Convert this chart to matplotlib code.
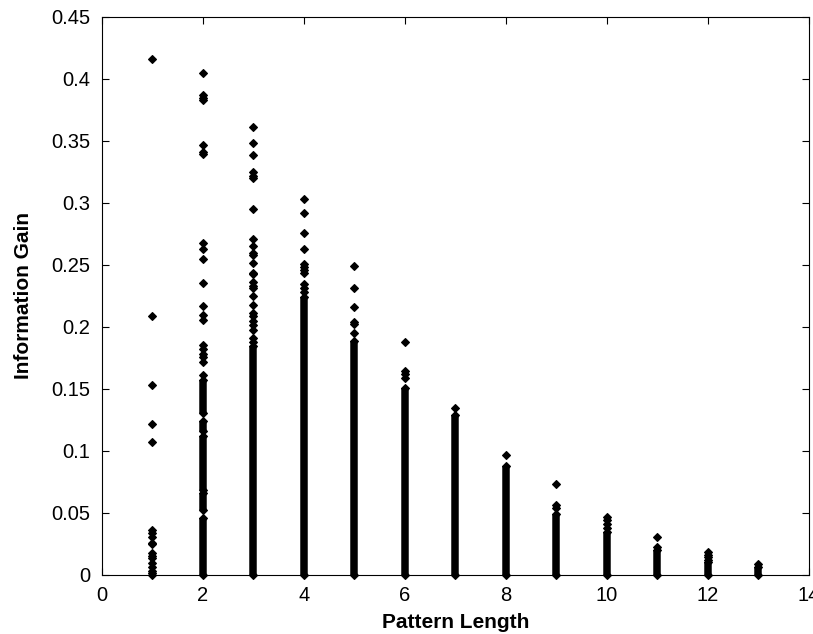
import matplotlib
matplotlib.use("Agg")
import matplotlib.pyplot as plt

plt.rcParams['font.family'] = ['Liberation Sans', 'DejaVu Sans']

# ── data ─────────────────────────────────────────────────────────────
lengths = list(range(1, 14))

# isolated points per pattern length
gain_1 = [0.4164, 0.2089, 0.153, 0.1218, 0.107, 0.036, 0.0336, 0.0304,
          0.026, 0.0247, 0.018, 0.0155, 0.0135, 0.0094, 0.0067, 0.0035,
          0.0013, 0.0]
gain_2 = [0.4045, 0.387, 0.385, 0.383, 0.3468, 0.3414, 0.3395, 0.268,
          0.2626, 0.2546, 0.2352, 0.217, 0.2097, 0.2056, 0.1855, 0.182,
          0.1785, 0.1756, 0.172, 0.161]
gain_3 = [0.361, 0.348, 0.3387, 0.3253, 0.322, 0.3204, 0.295, 0.2707,
          0.2653, 0.2594, 0.258, 0.2519, 0.2438, 0.2425, 0.2366, 0.233,
          0.2312, 0.225, 0.2177, 0.211, 0.2089, 0.205, 0.2016, 0.1975,
          0.191, 0.188]
gain_4 = [0.3032, 0.2917, 0.276, 0.2626, 0.2508, 0.2481, 0.246, 0.2433,
          0.2347, 0.2312, 0.228]
gain_5 = [0.2495, 0.2312, 0.2164, 0.2043, 0.2024, 0.1954]
gain_6 = [0.1877, 0.1648, 0.1621, 0.1586]
gain_7 = [0.1344]
gain_8 = [0.0968]
gain_9 = [0.0731, 0.0565, 0.0538]
gain_10 = [0.0465, 0.0444, 0.0411, 0.0376]
gain_11 = [0.0306, 0.0228]
gain_12 = [0.0182, 0.0158, 0.0143, 0.0121]
gain_13 = [0.0085]
sparse = [gain_1, gain_2, gain_3, gain_4, gain_5, gain_6, gain_7,
          gain_8, gain_9, gain_10, gain_11, gain_12, gain_13]

# runs so dense that the markers merge into a solid bar
dense_len = [2, 2, 2, 2, 2, 3, 4, 5, 6, 7, 8, 9, 10, 11, 12, 13]
dense_lo = [0.0, 0.052, 0.0685, 0.116, 0.131, 0.0, 0.0, 0.0, 0.0, 0.0,
            0.0, 0.0, 0.0, 0.0, 0.0, 0.0]
dense_hi = [0.046, 0.066, 0.112, 0.124, 0.157, 0.185, 0.224, 0.189, 0.151,
            0.129, 0.088, 0.049, 0.035, 0.020, 0.0105, 0.0067]

xticks = [0, 2, 4, 6, 8, 10, 12, 14]
yticks = [0, 0.05, 0.1, 0.15, 0.2, 0.25, 0.3, 0.35, 0.4, 0.45]
ytick_labels = ["0", "0.05", "0.1", "0.15", "0.2", "0.25", "0.3", "0.35",
                "0.4", "0.45"]

# ── figure ──────────────────────────────────────────────────────────
fig = plt.figure(figsize=(8.13, 6.34), dpi=100)
ax = fig.add_axes([0.1251, 0.0931, 0.8696, 0.8801])

mk = dict(marker="D", ms=3.8, mfc="k", mec="k", mew=0.8, ls="none",
          clip_on=False, zorder=3)

ax.vlines(dense_len, dense_lo, dense_hi, color="k", lw=5.4, zorder=3)
ax.plot(dense_len, dense_lo, **mk)
ax.plot(dense_len, dense_hi, **mk)
for L, g in zip(lengths, sparse):
    ax.plot([L] * len(g), g, **mk)

ax.set_xlim(0, 14)
ax.set_ylim(0, 0.45)
ax.set_xticks(xticks)
ax.set_yticks(yticks)
ax.set_yticklabels(ytick_labels)
ax.tick_params(direction="in", length=5, width=0.8, top=True, right=True,
               labelsize=14.5, pad=8, colors="k")
for s in ax.spines.values():
    s.set_linewidth(0.8)

ax.set_xlabel("Pattern Length", fontsize=15, fontweight="bold", labelpad=6)
ax.set_ylabel("Information Gain", fontsize=15, fontweight="bold", labelpad=13)

fig.savefig("out.png", dpi=100)
